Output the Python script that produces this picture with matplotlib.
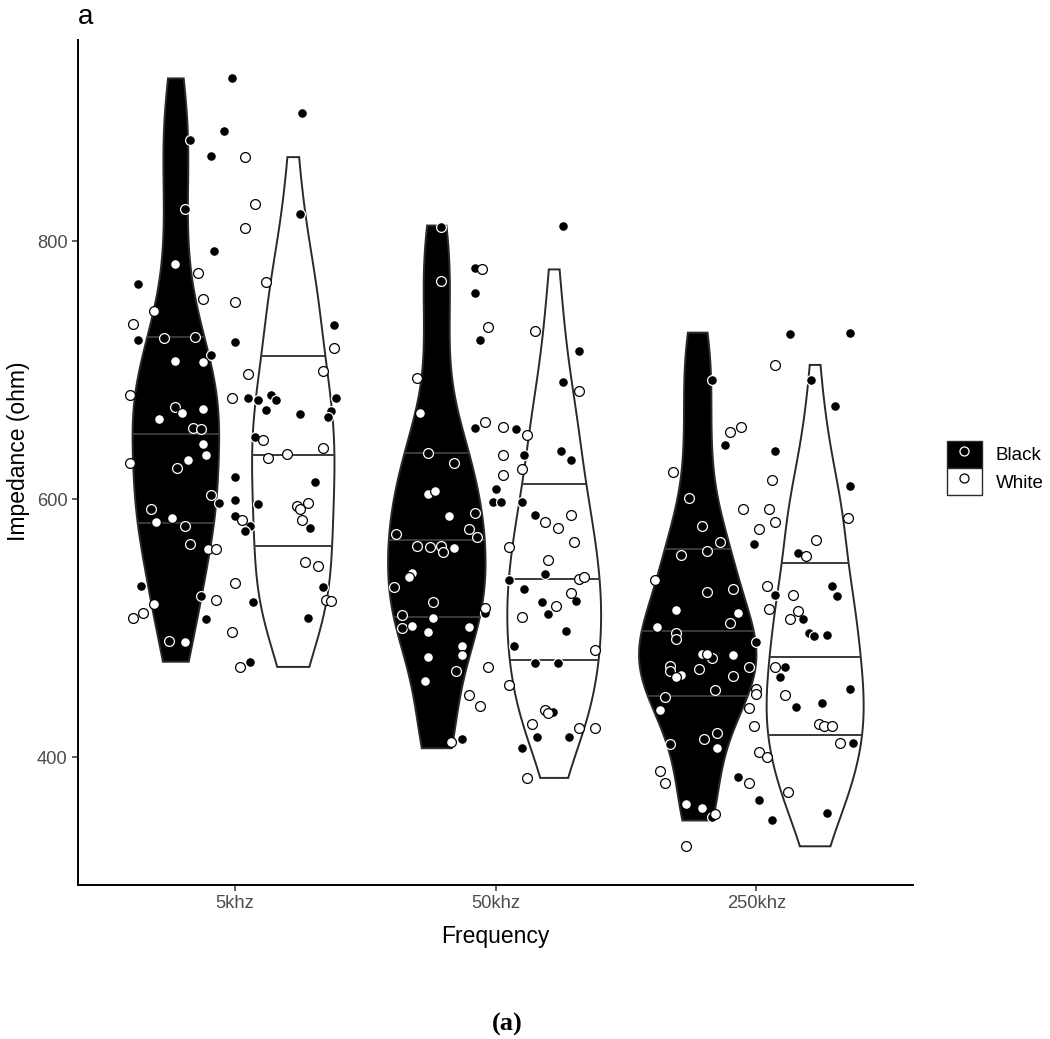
import numpy as np
import matplotlib
matplotlib.use("Agg")
import matplotlib.pyplot as plt
from matplotlib.patches import Patch, Polygon
from matplotlib.lines import Line2D

plt.rcParams['font.family'] = ['Liberation Sans', 'DejaVu Sans']

# ---------------- data ----------------
frequencies = ['5khz', '50khz', '250khz']
groups = ['Black', 'White']

black_5k = [926, 899, 885, 878, 866, 825, 821, 792, 767, 735, 723, 725, 726, 722, 712,
            678, 677, 681, 677, 669, 666, 678, 668, 664, 671, 655, 654, 624, 648, 617,
            613, 603, 597, 599, 596, 592, 579, 587, 579, 575, 578, 565, 533, 532, 525,
            520, 507, 508, 490, 474]
black_5k_jit = [-0.01, 0.26, -0.04, -0.17, -0.09, -0.19, 0.25, -0.08, -0.37, 0.38, -0.37, -0.27,
                -0.15, 0.00, -0.09, 0.05, 0.09, 0.14, 0.16, 0.12, 0.25, 0.39, 0.37, 0.36, -0.23,
                -0.16, -0.13, -0.22, 0.08, 0.00, 0.31, -0.09, -0.06, 0.00, 0.09, -0.32, -0.19,
                0.00, 0.06, 0.04, 0.29, -0.17, -0.36, 0.34, -0.13, 0.07, -0.11, 0.28, -0.25, 0.06]

white_5k = [865, 829, 810, 782, 775, 768, 755, 753, 746, 736, 717, 707, 706, 697, 699,
            681, 678, 667, 670, 662, 643, 634, 630, 628, 646, 632, 635, 640, 582, 585,
            584, 595, 597, 592, 584, 561, 561, 551, 548, 535, 519, 512, 508, 522, 522,
            521, 497, 489, 470]
white_5k_jit = [0.04, 0.08, 0.04, -0.23, -0.14, 0.12, -0.12, 0.00, -0.31, -0.39, 0.38, -0.23,
                -0.12, 0.05, 0.34, -0.40, -0.01, -0.20, -0.12, -0.29, -0.12, -0.11, -0.18, -0.40,
                0.11, 0.13, 0.20, 0.34, -0.30, -0.24, 0.03, 0.24, 0.28, 0.25, 0.26, -0.10, -0.07,
                0.27, 0.32, 0.00, -0.31, -0.35, -0.39, -0.07, 0.35, 0.37, -0.01, -0.19, 0.02]

black_50k = [811, 812, 779, 769, 760, 723, 715, 691, 655, 654, 636, 628, 634, 637, 630,
             608, 598, 598, 598, 589, 588, 573, 577, 571, 564, 563, 564, 559, 542, 537,
             532, 520, 530, 520, 521, 511, 512, 510, 500, 498, 486, 473, 473, 467, 435,
             416, 416, 414, 407]
black_50k_jit = [-0.21, 0.26, -0.08, -0.21, -0.08, -0.06, 0.32, 0.26, -0.08, 0.08, -0.26, -0.16,
                 0.11, 0.25, 0.29, 0.00, -0.01, 0.02, 0.10, -0.08, 0.15, -0.38, -0.10, -0.07,
                 -0.30, -0.25, -0.21, -0.20, 0.19, 0.05, -0.39, -0.24, 0.11, 0.18, 0.31, 0.20,
                 -0.04, -0.36, -0.36, 0.27, 0.07, 0.15, 0.24, -0.15, 0.22, 0.16, 0.28, -0.13, 0.10]

white_50k = [778, 733, 730, 694, 684, 667, 660, 656, 650, 634, 619, 623, 604, 606, 587,
             582, 578, 588, 567, 562, 563, 553, 538, 540, 543, 540, 517, 527, 509, 516,
             508, 502, 497, 501, 483, 486, 479, 478, 470, 459, 456, 448, 440, 437, 434,
             426, 423, 423, 412, 384]
white_50k_jit = [-0.05, -0.03, 0.15, -0.30, 0.32, -0.29, -0.04, 0.03, 0.12, 0.03, 0.03, 0.10,
                 -0.26, -0.23, -0.18, 0.19, 0.24, 0.29, 0.30, -0.16, 0.05, 0.20, 0.32, 0.34,
                 -0.32, -0.33, 0.23, 0.29, 0.10, -0.04, -0.24, -0.32, -0.26, -0.10, 0.38, -0.13,
                 -0.13, -0.26, -0.03, -0.27, 0.05, -0.10, -0.06, 0.19, 0.20, 0.14, 0.32, 0.38,
                 -0.17, 0.12]

black_250k = [728, 729, 692, 692, 672, 642, 637, 610, 601, 579, 567, 565, 557, 560, 558,
              528, 530, 526, 533, 525, 504, 496, 492, 507, 496, 494, 495, 489, 477, 471,
              467, 468, 463, 470, 470, 462, 452, 453, 447, 439, 442, 419, 414, 410, 411,
              385, 367, 354, 351, 357]
black_250k_jit = [0.13, 0.36, -0.17, 0.21, 0.30, -0.12, 0.07, 0.36, -0.26, -0.21, -0.14, -0.01,
                  -0.29, -0.19, 0.16, -0.19, -0.09, 0.07, 0.29, 0.31, -0.10, -0.31, -0.31, 0.18,
                  0.20, 0.22, 0.27, 0.00, -0.17, -0.33, -0.33, -0.22, -0.09, -0.03, 0.11, 0.09,
                  -0.16, 0.36, -0.35, 0.15, 0.25, -0.15, -0.20, -0.33, 0.37, -0.07, 0.01, -0.17,
                  0.06, 0.27]

white_250k = [704, 652, 656, 621, 615, 592, 592, 585, 577, 582, 568, 556, 537, 533, 526,
              515, 514, 512, 501, 507, 513, 480, 480, 479, 464, 462, 470, 453, 449, 448,
              437, 438, 426, 424, 424, 424, 407, 411, 404, 400, 389, 380, 380, 373, 364,
              361, 356, 331]
white_250k_jit = [0.07, -0.10, -0.06, -0.32, 0.06, -0.05, 0.05, 0.35, 0.01, 0.07, 0.23, 0.19,
                  -0.39, 0.04, 0.14, 0.05, -0.31, -0.07, -0.38, 0.13, 0.16, -0.21, -0.19, -0.09,
                  -0.29, -0.31, 0.07, 0.00, 0.00, 0.11, -0.37, -0.03, 0.24, 0.26, 0.29, -0.01,
                  -0.15, 0.32, 0.01, 0.04, -0.37, -0.35, -0.03, 0.12, -0.27, -0.21, -0.16, -0.27]

values = {('5khz', 'Black'): black_5k, ('5khz', 'White'): white_5k,
          ('50khz', 'Black'): black_50k, ('50khz', 'White'): white_50k,
          ('250khz', 'Black'): black_250k, ('250khz', 'White'): white_250k}
jitters = {('5khz', 'Black'): black_5k_jit, ('5khz', 'White'): white_5k_jit,
           ('50khz', 'Black'): black_50k_jit, ('50khz', 'White'): white_50k_jit,
           ('250khz', 'Black'): black_250k_jit, ('250khz', 'White'): white_250k_jit}
quantiles = [0.25, 0.5, 0.75]

# ---------------- styling ----------------
fill = {'Black': 'black', 'White': 'white'}
ring = {'Black': 'white', 'White': 'black'}
outline = '#2a2a2a'
dodge = 0.225
half_width = 0.225


def nrd0(v):
    v = np.asarray(v, float)
    sd = v.std(ddof=1)
    q75, q25 = np.percentile(v, [75, 25])
    lo = min(sd, (q75 - q25) / 1.34)
    if lo <= 0:
        lo = sd if sd > 0 else 1.0
    return 0.9 * lo * len(v) ** -0.2


def kde(v, n=512):
    v = np.asarray(v, float)
    bw = nrd0(v)
    grid = np.linspace(v.min(), v.max(), n)
    z = (grid[:, None] - v[None, :]) / bw
    d = np.exp(-0.5 * z ** 2).sum(axis=1) / (len(v) * bw * np.sqrt(2 * np.pi))
    return grid, d


dens = {k: kde(v) for k, v in values.items()}
dmax = max(d.max() for _, d in dens.values())

fig = plt.figure(figsize=(10.5, 10.39), dpi=100)
ax = fig.add_axes([78 / 1050, 1 - 884.7 / 1039, 835 / 1050, 844.7 / 1039])

for i, f in enumerate(frequencies):
    for j, g in enumerate(groups):
        c = i + 1 + (-dodge if g == 'Black' else dodge)
        grid, d = dens[(f, g)]
        w = d / dmax * half_width
        xs = np.concatenate([c - w, (c + w)[::-1]])
        ys = np.concatenate([grid, grid[::-1]])
        ax.add_patch(Polygon(np.column_stack([xs, ys]), closed=True,
                             facecolor=fill[g], edgecolor=outline, lw=1.4, zorder=2))
        ecdf = np.cumsum(d) / d.sum()
        qy = np.interp(quantiles, ecdf, grid)
        qw = np.interp(qy, grid, w)
        for y, hw in zip(qy, qw):
            ax.plot([c - hw, c + hw], [y, y], color='#3a3a3a', lw=1.4, zorder=3,
                    solid_capstyle='butt')

for i, f in enumerate(frequencies):
    for g in groups:
        v = np.asarray(values[(f, g)], float)
        x = i + 1 + np.asarray(jitters[(f, g)], float)
        ax.scatter(x, v, s=50, facecolor=fill[g], edgecolor=ring[g],
                   linewidths=0.9, zorder=4)

allv = np.concatenate([np.asarray(v, float) for v in values.values()])
lo, hi = allv.min(), allv.max()
pad = 0.05 * (hi - lo)
ax.set_ylim(lo - pad, hi + pad)
ax.set_xlim(0.4, 3.6)
ax.set_xticks([1, 2, 3])
ax.set_xticklabels(frequencies)
ax.set_yticks([400, 600, 800])

for s in ['top', 'right']:
    ax.spines[s].set_visible(False)
for s in ['left', 'bottom']:
    ax.spines[s].set_linewidth(1.4)
    ax.spines[s].set_color('black')
ax.tick_params(axis='both', length=4.2, width=1.1, color='#333333',
               labelsize=13.2, labelcolor='#4D4D4D', pad=3.2)

fig.text(78 / 1050, 1 - 24 / 1039, 'a', fontsize=20, ha='left', va='baseline')
fig.text(495.5 / 1050, 1 - 943 / 1039, 'Frequency', fontsize=16.5, ha='center', va='baseline')
fig.text(19 / 1050, 1 - 451 / 1039, 'Impedance (ohm)', fontsize=16.5, rotation=90,
         ha='center', va='center')
fig.text(507 / 1050, 1 - 1024 / 1039, '(a)', fontsize=19, fontweight='bold',
         family='Liberation Serif', ha='center', va='center')

handles = []
for g in groups:
    handles.append((Patch(facecolor=fill[g], edgecolor=outline, lw=1.0),
                    Line2D([], [], ls='', marker='o', markersize=6.5,
                           markerfacecolor=fill[g], markeredgecolor=ring[g],
                           markeredgewidth=0.9)))
fig.legend(handles, groups, loc='center left', bbox_to_anchor=(947 / 1050, 1 - 468 / 1039),
           frameon=False, fontsize=13.5, handlelength=1.85, handleheight=1.85,
           labelspacing=0.0, handletextpad=0.75, borderpad=0, borderaxespad=0)

fig.savefig('out.png', dpi=100)
